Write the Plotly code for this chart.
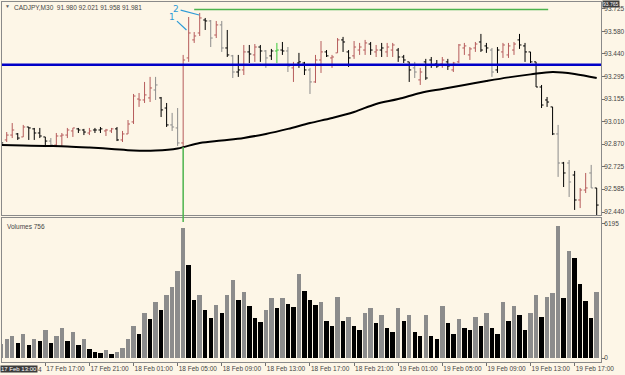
import plotly.graph_objects as go

# ---------------- data ----------------
symbol_title = "CADJPY,M30  91.980 92.021 91.958 91.981"
volume_title = "Volumes 756"

# bar index 0 = 17 Feb 13:00, M30 bars
opens = [92.896, 92.896, 92.927, 92.934, 92.915, 92.978, 92.966, 92.940, 92.915, 92.889,
         92.864, 92.921, 92.927, 92.953, 92.966, 92.959, 92.940, 92.959, 92.959, 92.953,
         92.953, 92.966, 92.896, 92.934, 93.010, 93.155, 93.149, 93.162, 93.212, 93.162,
         93.098, 92.991, 92.972, 92.877, 93.415, 93.529, 93.573, 93.655, 93.649, 93.560,
         93.624, 93.478, 93.428, 93.326, 93.339, 93.453, 93.434, 93.484, 93.459, 93.428,
         93.459, 93.465, 93.459, 93.352, 93.383, 93.383, 93.339, 93.263, 93.402, 93.453,
         93.415, 93.447, 93.529, 93.453, 93.428, 93.465, 93.465, 93.503, 93.453, 93.465,
         93.453, 93.465, 93.465, 93.421, 93.390, 93.352, 93.276, 93.390, 93.402, 93.377,
         93.377, 93.390, 93.339, 93.390, 93.478, 93.434, 93.478, 93.516, 93.491, 93.465,
         93.339, 93.453, 93.434, 93.465, 93.529, 93.491, 93.453, 93.390, 93.231, 93.149,
         93.105, 92.934, 92.750, 92.750, 92.674, 92.516, 92.579, 92.687, 92.592]
highs = [92.915, 92.946, 93.003, 92.940, 92.991, 92.978, 92.972, 92.972, 92.915, 92.908,
         92.940, 92.940, 92.972, 92.972, 92.972, 92.966, 92.972, 92.972, 92.978, 92.966,
         92.972, 92.978, 92.953, 93.022, 93.187, 93.193, 93.263, 93.295, 93.295, 93.168,
         93.130, 93.067, 93.098, 93.434, 93.674, 93.579, 93.700, 93.668, 93.655, 93.649,
         93.649, 93.592, 93.434, 93.434, 93.497, 93.497, 93.503, 93.497, 93.465, 93.472,
         93.510, 93.516, 93.484, 93.390, 93.447, 93.390, 93.352, 93.434, 93.522, 93.465,
         93.434, 93.541, 93.548, 93.465, 93.522, 93.510, 93.529, 93.516, 93.497, 93.510,
         93.510, 93.510, 93.478, 93.434, 93.390, 93.390, 93.352, 93.409, 93.421, 93.402,
         93.421, 93.409, 93.390, 93.503, 93.510, 93.484, 93.516, 93.567, 93.510, 93.478,
         93.484, 93.510, 93.510, 93.516, 93.567, 93.510, 93.453, 93.390, 93.244, 93.168,
         93.105, 92.991, 92.757, 92.769, 92.700, 92.592, 92.687, 92.738, 92.592]
lows = [92.858, 92.883, 92.908, 92.896, 92.915, 92.896, 92.896, 92.908, 92.851, 92.851,
        92.851, 92.858, 92.908, 92.915, 92.940, 92.927, 92.927, 92.940, 92.940, 92.921,
        92.940, 92.889, 92.883, 92.934, 92.997, 93.105, 93.130, 93.136, 93.149, 93.041,
        92.978, 92.953, 92.858, 92.851, 93.390, 93.510, 93.554, 93.592, 93.484, 93.541,
        93.453, 93.421, 93.288, 93.295, 93.307, 93.383, 93.390, 93.390, 93.352, 93.402,
        93.383, 93.434, 93.326, 93.263, 93.352, 93.307, 93.187, 93.257, 93.320, 93.421,
        93.352, 93.447, 93.453, 93.358, 93.409, 93.434, 93.434, 93.434, 93.421, 93.421,
        93.421, 93.421, 93.390, 93.383, 93.263, 93.288, 93.244, 93.276, 93.352, 93.352,
        93.352, 93.339, 93.326, 93.383, 93.434, 93.402, 93.453, 93.453, 93.447, 93.295,
        93.320, 93.415, 93.415, 93.434, 93.472, 93.390, 93.383, 93.231, 93.098, 93.105,
        92.927, 92.662, 92.598, 92.535, 92.453, 92.465, 92.560, 92.592, 92.421]
closes = [92.877, 92.927, 92.959, 92.908, 92.978, 92.972, 92.940, 92.921, 92.889, 92.864,
          92.921, 92.927, 92.959, 92.972, 92.959, 92.946, 92.953, 92.959, 92.966, 92.959,
          92.966, 92.896, 92.934, 92.997, 93.174, 93.149, 93.181, 93.225, 93.244, 93.086,
          92.991, 92.978, 92.877, 93.402, 93.573, 93.554, 93.668, 93.649, 93.541, 93.624,
          93.478, 93.434, 93.326, 93.339, 93.453, 93.440, 93.484, 93.459, 93.415, 93.459,
          93.465, 93.459, 93.364, 93.370, 93.390, 93.339, 93.263, 93.402, 93.453, 93.428,
          93.421, 93.529, 93.516, 93.415, 93.484, 93.484, 93.510, 93.465, 93.465, 93.478,
          93.484, 93.497, 93.421, 93.402, 93.339, 93.326, 93.326, 93.288, 93.370, 93.364,
          93.402, 93.364, 93.383, 93.497, 93.491, 93.472, 93.503, 93.465, 93.478, 93.326,
          93.465, 93.497, 93.491, 93.503, 93.497, 93.453, 93.390, 93.231, 93.117, 93.136,
          92.934, 92.750, 92.687, 92.630, 92.516, 92.579, 92.592, 92.592, 92.484]
# bar class as drawn by the chart's colouring indicator
bar_class = list("krrkrkkkkg" "rrrrkkrkkr" "rkrrrrrrgk" "kggrrrrkgr"
                 "gkgkrkrkgk" "Gkgrkkgrrk" "rrkkrrrkrk" "rrkkkgrkkk"
                 "rkrrrrrkkg" "krrrkkkkkk" "kgkgkrrgk")
volumes = [650, 900, 1000, 700, 1100, 600, 900, 800,
           1300, 700, 1000, 1400, 800, 1200, 600, 900,
           400, 300, 250, 350, 200, 300, 450, 900,
           1500, 1100, 2100, 1800, 2600, 2200, 2900, 3300, 4000,
           6000,
           4300, 2700, 2900, 2200, 1850, 2450, 2100, 2900, 3600, 2700, 3050,
           2400, 1850, 1650, 2200, 2750, 2300, 2750, 2500, 2350, 3900,
           3100, 2700, 2450, 2600, 1700, 1500, 2800, 1700, 1900, 1500, 1300,
           2100, 2300, 1600, 2000, 1400, 1200, 2300, 1700, 2000, 1200,
           1000, 2000, 1000, 900, 2400, 1600, 1100, 1800, 1400, 1300, 1900, 1500,
           2100, 1400, 1100, 2600, 1700, 2400, 2000, 1300, 2100, 2900, 1900, 2800, 3000,
           6100, 2770, 4945, 4620, 3420, 2630, 1850, 3050]
ma_bars = [0, 4, 8, 12, 16, 20, 24, 28, 32, 36, 40, 44, 48, 52, 56, 60, 64, 68,
           72, 76, 80, 84, 88, 92, 96, 100, 104, 108]
ma_values = [92.864, 92.861, 92.858, 92.855, 92.848, 92.839, 92.829, 92.829, 92.842,
             92.877, 92.893, 92.909, 92.934, 92.966, 93.003, 93.035, 93.073, 93.124,
             93.155, 93.193, 93.219, 93.244, 93.269, 93.292, 93.311, 93.326, 93.314, 93.288]
price_ticks = [93.725, 93.580, 93.440, 93.295, 93.155, 93.010, 92.870, 92.725, 92.585, 92.440]
volume_ticks = [0, 6195]
time_tick_bars = [8, 16, 24, 32, 40, 48, 56, 64, 72, 80, 88, 96, 104]
time_tick_labels = ["17 Feb 17:00", "17 Feb 21:00", "18 Feb 01:00", "18 Feb 05:00",
                    "18 Feb 09:00", "18 Feb 13:00", "18 Feb 17:00", "18 Feb 21:00",
                    "19 Feb 01:00", "19 Feb 05:00", "19 Feb 09:00", "19 Feb 13:00",
                    "19 Feb 17:00"]
hidden_label_tail = "4"
cursor_time_label = "17 Feb 13:00"
top_price_label = "93.765"
blue_level = 93.372
green_level = 93.722
green_from_bar, green_to_bar = 35, 99.2
event_bar = 33

# ---------------- style ----------------
BG = "#fdf6e7"
FRAME = "#8a8a8a"
TXT = "#454545"
FONT = "Liberation Sans"
FS = 6.5
class_color = {"r": "#b65c5c", "k": "#000000", "g": "#8c8c8c", "G": "#3cc83c"}
W, H = 625, 375
px_l, px_r = 2, 601
px_top, px_pbot, px_vtop, px_vbot = 2, 215, 218, 362
TW = 0.36

fig = go.Figure()

for cls, col in class_color.items():
    xs, ys = [], []
    for k, c in enumerate(bar_class):
        if c != cls:
            continue
        xs += [k, k, None, k - TW, k, None, k, k + TW, None]
        ys += [lows[k], highs[k], None, opens[k], opens[k], None, closes[k], closes[k], None]
    fig.add_trace(go.Scatter(x=xs, y=ys, mode="lines", line=dict(color=col, width=1),
                             hoverinfo="skip", showlegend=False, xaxis="x", yaxis="y"))

fig.add_trace(go.Scatter(x=ma_bars, y=ma_values, mode="lines",
                         line=dict(color="#000000", width=2, shape="spline"),
                         showlegend=False, xaxis="x", yaxis="y"))

vol_colors = []
for i, v in enumerate(volumes):
    up = i == 0 or v > volumes[i - 1]
    vol_colors.append("#8c8c8c" if up else "#000000")
fig.add_trace(go.Bar(x=list(range(len(volumes))), y=volumes, width=0.8,
                     marker=dict(color=vol_colors, line=dict(width=0)),
                     showlegend=False, xaxis="x2", yaxis="y2"))

def py(px):
    return 1 - px / H

xr = [0.145, 108.78]
axis_common = dict(showgrid=False, zeroline=False, showline=True, mirror=True,
                   linecolor=FRAME, linewidth=1, automargin=False)
tickfont = dict(family=FONT, size=FS, color=TXT)
fig.update_layout(
    width=W, height=H, autosize=False,
    margin=dict(l=0, r=0, t=0, b=0, pad=0),
    paper_bgcolor=BG, plot_bgcolor=BG,
    font=dict(family=FONT, size=FS, color=TXT),
    bargap=0,
    xaxis=dict(domain=[px_l / W, px_r / W], range=xr, anchor="y",
               showticklabels=False, ticks="", **axis_common),
    yaxis=dict(domain=[py(px_pbot), py(px_top)], range=[92.421, 93.769], anchor="x",
               side="right", tickvals=price_ticks,
               ticktext=[f"{v:.3f}" for v in price_ticks],
               ticks="outside", ticklen=3, tickcolor="#707070",
               ticklabelstandoff=-2, tickfont=tickfont, **axis_common),
    xaxis2=dict(domain=[px_l / W, px_r / W], range=xr, matches="x", anchor="y2",
                tickvals=time_tick_bars, ticktext=time_tick_labels, tickangle=0,
                ticks="outside", ticklen=3, tickcolor="#707070",
                ticklabelposition="outside right", tickfont=tickfont, **axis_common),
    yaxis2=dict(domain=[py(px_vbot), py(px_vtop)], range=[-185, 6468], anchor="x2",
                side="right", tickvals=volume_ticks,
                ticktext=[str(v) for v in volume_ticks],
                ticks="outside", ticklen=3, tickcolor="#707070",
                ticklabelstandoff=-2, tickfont=tickfont, **axis_common),
)

shapes = [
    dict(type="line", xref="paper", yref="y", x0=px_l / W, x1=px_r / W,
         y0=blue_level, y1=blue_level, line=dict(color="#0000c8", width=2.5)),
    dict(type="line", xref="x", yref="y", x0=green_from_bar, x1=green_to_bar,
         y0=green_level, y1=green_level, line=dict(color="#4db34d", width=1.5)),
    dict(type="line", xref="x", yref="y", x0=event_bar, x1=event_bar,
         y0=lows[event_bar], y1=92.3, line=dict(color="#4db34d", width=1.5)),
    dict(type="line", xref="x", yref="paper", x0=event_bar, x1=event_bar,
         y0=py(px_pbot), y1=py(222), line=dict(color="#4db34d", width=1.5)),
]
fig.update_layout(shapes=shapes)

ann = [
    dict(x=3 / W, y=py(6.5), xref="paper", yref="paper", text="▼", showarrow=False,
         xanchor="left", yanchor="middle", font=dict(size=5, color="#606060")),
    dict(x=12 / W, y=py(7), xref="paper", yref="paper", text=symbol_title,
         showarrow=False, xanchor="left", yanchor="middle",
         font=dict(size=FS, color=TXT)),
    dict(x=5 / W, y=py(226), xref="paper", yref="paper", text=volume_title,
         showarrow=False, xanchor="left", yanchor="middle",
         font=dict(size=FS, color=TXT)),
    dict(x=0, y=py(369), xref="paper", yref="paper", text=cursor_time_label,
         showarrow=False, xanchor="left", yanchor="middle", bgcolor="#3c3c3c",
         borderpad=0, font=dict(size=6, color="#ffffff")),
    dict(x=36 / W, y=py(369), xref="paper", yref="paper", text=hidden_label_tail,
         showarrow=False, xanchor="left", yanchor="middle",
         font=dict(size=FS, color=TXT)),
    dict(x=602 / W, y=1, xref="paper", yref="paper", text=top_price_label,
         showarrow=False, xanchor="left", yanchor="top", bgcolor="#3c3c3c",
         borderpad=0, font=dict(size=5, color="#ffffff")),
    dict(x=33.6, y=93.592, xref="x", yref="y", text="1", showarrow=True,
         arrowhead=0, arrowwidth=1.2, arrowcolor="#2e9bd6", ax=-14, ay=-13,
         font=dict(size=9, color="#2e9bd6", family="DejaVu Sans")),
    dict(x=35.9, y=93.687, xref="x", yref="y", text="2", showarrow=True,
         arrowhead=0, arrowwidth=1.2, arrowcolor="#2e9bd6", ax=-23, ay=-6,
         font=dict(size=9, color="#2e9bd6", family="DejaVu Sans")),
]
fig.update_layout(annotations=ann)

fig.write_html("out.html")
